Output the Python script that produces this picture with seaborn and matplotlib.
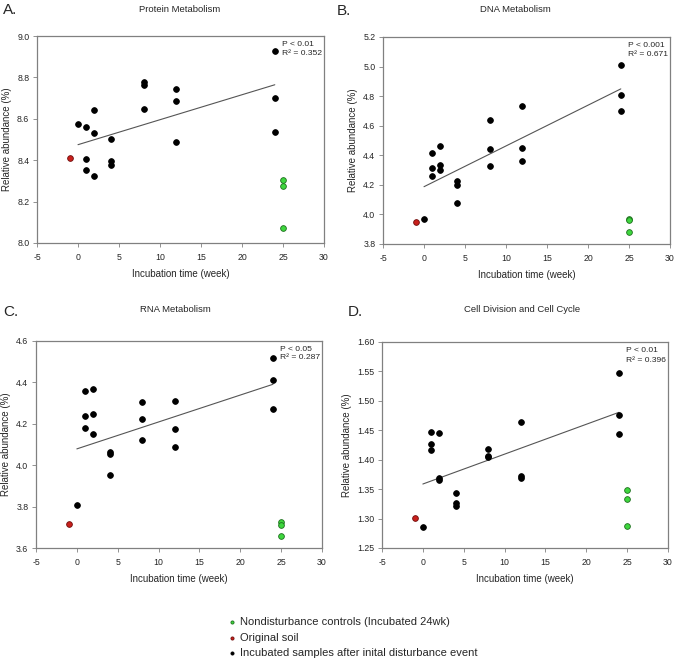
import numpy as np
import pandas as pd
import matplotlib
matplotlib.use("Agg")
import matplotlib.pyplot as plt
import seaborn as sns

sns.set_theme(style="ticks")
plt.rcParams["font.family"] = ["Liberation Sans", "DejaVu Sans"]
plt.rcParams["axes.unicode_minus"] = False

# sampling weeks for the incubated samples (3 replicates per time point)
weeks = [0, 1, 1, 1, 2, 2, 2, 4, 4, 4, 8, 8, 8, 12, 12, 12, 24, 24, 24]
soil_week = [-1]          # drawn just left of week 0
soil_fit_week = [0]       # the original soil is the week-0 state in the regression
control_weeks = [25, 25, 25]

# A. Protein Metabolism
protein_inc = [8.573, 8.560, 8.405, 8.355, 8.642, 8.532, 8.326, 8.503, 8.398, 8.379,
               8.776, 8.761, 8.645, 8.744, 8.685, 8.487, 8.926, 8.702, 8.535]
protein_soil = [8.411]
protein_ctrl = [8.306, 8.277, 8.074]

# B. DNA Metabolism
dna_inc = [3.972, 4.413, 4.311, 4.259, 4.463, 4.336, 4.302, 4.223, 4.198, 4.076,
           4.637, 4.443, 4.327, 4.732, 4.452, 4.363, 5.008, 4.805, 4.698]
dna_soil = [3.950]
dna_ctrl = [3.970, 3.965, 3.882]

# C. RNA Metabolism
rna_inc = [3.810, 4.360, 4.240, 4.181, 4.370, 4.246, 4.150, 4.063, 4.052, 3.955,
           4.304, 4.224, 4.124, 4.311, 4.176, 4.086, 4.517, 4.410, 4.272]
rna_soil = [3.715]
rna_ctrl = [3.727, 3.712, 3.659]

# D. Cell Division and Cell Cycle
cell_inc = [1.2864, 1.4472, 1.4273, 1.4159, 1.4460, 1.3682, 1.3648, 1.3426, 1.3267, 1.3215,
            1.4188, 1.4068, 1.4040, 1.4648, 1.3727, 1.3693, 1.5472, 1.4755, 1.4443]
cell_soil = [1.3006]
cell_ctrl = [1.3489, 1.3341, 1.2875]

panels = [
    ("A.", "Protein Metabolism", protein_inc, protein_soil, protein_ctrl,
     (8.0, 9.0), np.arange(8.0, 9.01, 0.2), "{:.1f}", "P < 0.01\nR² = 0.352"),
    ("B.", "DNA Metabolism", dna_inc, dna_soil, dna_ctrl,
     (3.8, 5.2), np.arange(3.8, 5.21, 0.2), "{:.1f}", "P < 0.001\nR² = 0.671"),
    ("C.", "RNA Metabolism", rna_inc, rna_soil, rna_ctrl,
     (3.6, 4.6), np.arange(3.6, 4.61, 0.2), "{:.1f}", "P < 0.05\nR² = 0.287"),
    ("D.", "Cell Division and Cell Cycle", cell_inc, cell_soil, cell_ctrl,
     (1.25, 1.60), np.arange(1.25, 1.601, 0.05), "{:.2f}", "P < 0.01\nR² = 0.396"),
]

# axes boxes in pixels (left, top, right, bottom) on a 675x665 canvas
W, H = 675, 665
boxes = [(37, 36, 324, 243), (383, 37, 670, 244), (36, 341, 322, 548), (382, 342, 668, 548)]
title_pos = [(180, 9), (515, 9), (175, 309), (522, 310)]
letter_pos = [(3, 10), (337, 11), (3, 312), (348, 312)]
stats_spacing = [1.45, 1.45, 1.35, 1.6]

groups = [
    ("Nondisturbance controls (Incubated 24wk)", "#3ed63e", "#1d6e1d"),
    ("Original soil", "#c8201c", "#6e0d0b"),
    ("Incubated samples after inital disturbance event", "#000000", "#000000"),
]

fig = plt.figure(figsize=(6.75, 6.65), dpi=100)
spine_col = "#808080"

for (letter, title, inc, soil, ctrl, ylim, yticks, fmt, stats), box, tp, lp, ls in zip(
        panels, boxes, title_pos, letter_pos, stats_spacing):
    l, t, r, b = box
    ax = fig.add_axes([l / W, 1 - b / H, (r - l) / W, (b - t) / H])

    df_inc = pd.DataFrame({"week": weeks, "value": inc})
    df_soil = pd.DataFrame({"week": soil_week, "value": soil})
    df_ctrl = pd.DataFrame({"week": control_weeks, "value": ctrl})
    df_fit = pd.concat([df_inc, pd.DataFrame({"week": soil_fit_week, "value": soil})])

    sns.regplot(data=df_fit, x="week", y="value", scatter=False, ci=None, truncate=True,
                color="#555555", line_kws={"lw": 0.8}, ax=ax)
    for (name, fc, ec), d in zip(groups, [df_ctrl, df_soil, df_inc]):
        sns.scatterplot(data=d, x="week", y="value", color=fc, edgecolor=ec,
                        linewidth=0.6, s=17, label=name, ax=ax, legend=False, zorder=3)

    ax.set_xlim(-5, 30)
    ax.set_xticks(range(-5, 31, 5))
    ax.set_ylim(*ylim)
    ax.set_yticks(yticks)
    ax.set_yticklabels([fmt.format(v) for v in yticks])
    ax.tick_params(labelsize=6.3, length=3, width=0.6, color=spine_col, pad=2.5)
    ax.tick_params(axis="x", pad=4)
    for sp in ax.spines.values():
        sp.set_color(spine_col)
        sp.set_linewidth(0.9)
    ax.set_xlabel("Incubation time (week)", fontsize=7, labelpad=5)
    ax.set_ylabel("Relative abundance (%)", fontsize=7, labelpad=4)

    ax.text(0.853, 0.978, stats, transform=ax.transAxes, ha="left", va="top",
            fontsize=6.1, linespacing=ls)

    fig.text(tp[0] / W, 1 - tp[1] / H, title, ha="center", va="center", fontsize=6.8)
    fig.text(lp[0] / W, 1 - lp[1] / H, letter, ha="left", va="center", fontsize=11)

handles, labels = fig.axes[0].get_legend_handles_labels()
fig.legend(handles, labels, loc="upper left", bbox_to_anchor=(0.336, 1 - 617 / H),
           frameon=False, fontsize=8, markerscale=0.55, handletextpad=0.15,
           handlelength=1.0, labelspacing=0.5, borderaxespad=0, borderpad=0)

fig.savefig("out.png", dpi=100)
